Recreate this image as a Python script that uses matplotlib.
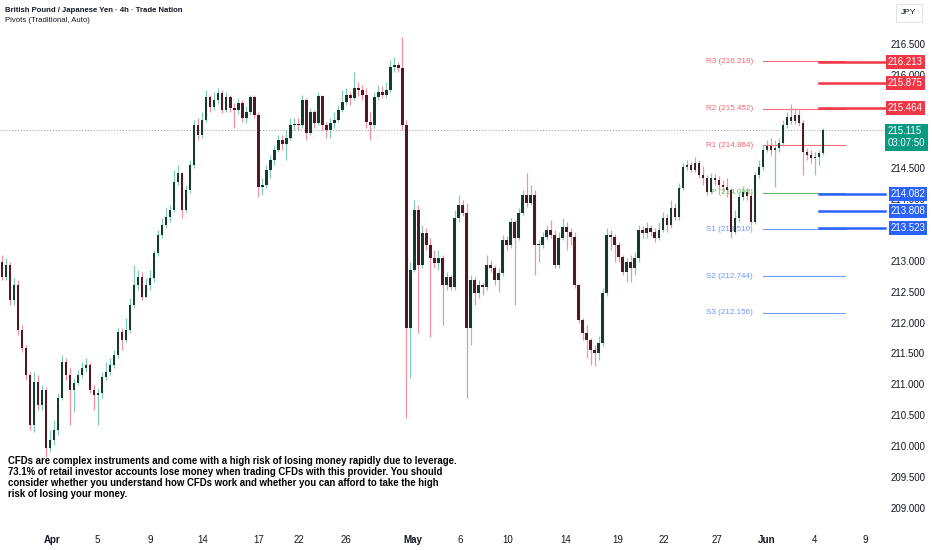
import matplotlib
matplotlib.use("Agg")
import matplotlib.pyplot as plt
import numpy as np

plt.rcParams['font.family'] = ['Liberation Sans', 'DejaVu Sans']

# GBP/JPY 4h candles (Apr -> early Jun)
first_open = 212.98
closes = [
    212.73, 212.93, 212.36, 212.60, 211.88, 211.59, 211.15, 210.34, 211.04, 210.67,
    210.91, 209.97, 210.10, 210.26, 210.78, 211.36, 211.15, 210.91, 211.02, 211.15,
    211.26, 211.31, 210.91, 210.83, 210.86, 211.12, 211.20, 211.31, 211.47, 211.85,
    211.72, 211.88, 212.28, 212.60, 212.73, 212.41, 212.60, 212.72, 213.12, 213.41,
    213.57, 213.70, 213.82, 214.27, 214.42, 213.82, 214.14, 214.54, 215.19, 215.03,
    215.27, 215.64, 215.48, 215.59, 215.71, 215.43, 215.64, 215.47, 215.43, 215.55,
    215.30, 215.40, 215.64, 215.35, 214.19, 214.22, 214.46, 214.63, 214.79, 214.95,
    214.88, 214.98, 215.19, 215.21, 215.19, 215.59, 215.06, 215.40, 215.22, 215.66,
    215.19, 215.11, 215.22, 215.27, 215.43, 215.56, 215.68, 215.63, 215.79, 215.76,
    215.68, 215.24, 215.19, 215.64, 215.72, 215.68, 215.76, 216.13, 216.16, 216.11,
    215.19, 211.91, 212.85, 213.82, 212.93, 213.45, 213.25, 213.04, 212.96, 213.04,
    212.60, 212.73, 212.57, 213.69, 213.90, 213.77, 211.91, 212.69, 212.48, 212.60,
    212.57, 212.93, 212.88, 212.69, 212.80, 213.33, 213.25, 213.62, 213.36, 213.77,
    214.06, 213.93, 214.06, 213.25, 213.25, 213.38, 213.49, 213.41, 212.93, 213.36,
    213.54, 213.46, 213.38, 212.60, 212.04, 211.83, 211.72, 211.55, 211.51, 211.67,
    212.48, 213.41, 213.38, 213.25, 213.06, 212.82, 212.98, 212.88, 213.04, 213.49,
    213.45, 213.53, 213.46, 213.36, 213.49, 213.69, 213.57, 213.85, 213.70, 214.17,
    214.51, 214.54, 214.46, 214.58, 214.38, 214.33, 214.11, 214.33, 214.30, 214.22,
    214.19, 214.14, 213.46, 213.69, 214.03, 214.11, 214.04, 213.62, 214.38, 214.51,
    214.79, 214.85, 214.79, 214.82, 214.90, 215.19, 215.32, 215.26, 215.35, 215.22,
    214.75, 214.71, 214.66, 214.67, 214.74, 215.115,
]
highs = [
    213.09, 213.04, 212.98, 212.72, 212.69, 211.96, 211.64, 211.20, 211.20, 211.15,
    210.99, 210.96, 210.26, 210.42, 210.86, 211.47, 211.42, 211.26, 211.10, 211.23,
    211.36, 211.42, 211.36, 210.99, 210.94, 211.20, 211.36, 211.42, 211.55, 211.91,
    211.91, 212.07, 212.39, 212.93, 212.85, 212.82, 212.72, 212.85, 213.17, 213.49,
    213.69, 213.85, 213.90, 214.46, 214.54, 214.43, 214.22, 214.63, 215.27, 215.30,
    215.40, 215.76, 215.68, 215.72, 215.79, 215.76, 215.72, 215.68, 215.55, 215.63,
    215.59, 215.50, 215.68, 215.68, 215.40, 214.33, 214.54, 214.71, 214.87, 215.03,
    215.03, 215.11, 215.30, 215.30, 215.30, 215.68, 215.63, 215.47, 215.43, 215.72,
    215.68, 215.24, 215.30, 215.40, 215.51, 215.76, 215.79, 215.72, 216.05, 215.89,
    215.84, 215.79, 215.40, 215.72, 215.84, 215.82, 215.89, 216.24, 216.29, 216.21,
    216.61, 215.27, 212.98, 213.98, 213.90, 213.57, 213.53, 213.36, 213.17, 213.17,
    213.09, 212.82, 212.77, 213.82, 214.06, 213.98, 213.93, 212.77, 212.73, 212.69,
    212.65, 213.09, 213.01, 212.93, 212.88, 213.41, 213.40, 213.69, 213.66, 213.85,
    214.14, 214.42, 214.22, 214.14, 213.33, 213.46, 213.57, 213.66, 213.49, 213.46,
    213.69, 213.62, 213.53, 213.46, 212.63, 212.07, 211.96, 211.75, 211.64, 211.78,
    212.56, 213.53, 213.49, 213.43, 213.30, 213.09, 213.04, 213.09, 213.14, 213.57,
    213.56, 213.62, 213.57, 213.53, 213.62, 213.78, 213.75, 213.98, 213.93, 214.25,
    214.58, 214.63, 214.59, 214.67, 214.63, 214.53, 214.38, 214.42, 214.40, 214.37,
    214.30, 214.33, 214.17, 213.82, 214.11, 214.20, 214.17, 214.11, 214.43, 214.63,
    214.87, 214.95, 214.98, 214.95, 214.98, 215.27, 215.40, 215.53, 215.47, 215.43,
    215.27, 214.82, 214.79, 214.75, 214.79, 215.14,
]
lows = [
    212.69, 212.69, 212.28, 212.28, 211.80, 211.52, 211.07, 210.26, 210.23, 210.58,
    210.58, 209.82, 209.91, 210.02, 210.18, 210.75, 211.07, 210.34, 210.55, 210.99,
    211.10, 211.20, 210.86, 210.58, 210.34, 210.78, 211.07, 211.15, 211.26, 211.42,
    211.55, 211.68, 211.83, 212.23, 212.52, 212.36, 212.39, 212.52, 212.65, 213.07,
    213.36, 213.53, 213.62, 213.78, 214.22, 213.69, 213.78, 214.09, 214.50, 214.95,
    214.98, 215.24, 215.40, 215.43, 215.53, 215.38, 215.40, 215.40, 215.14, 215.37,
    215.24, 215.22, 215.35, 215.30, 214.03, 214.06, 214.17, 214.33, 214.54, 214.75,
    214.79, 214.63, 214.95, 215.11, 215.11, 215.14, 214.95, 215.03, 215.14, 215.19,
    215.11, 214.98, 214.98, 215.14, 215.24, 215.40, 215.51, 215.51, 215.59, 215.66,
    215.59, 215.14, 214.95, 215.14, 215.59, 215.63, 215.63, 215.72, 216.05, 216.05,
    215.11, 210.46, 211.10, 212.82, 211.83, 212.88, 213.17, 211.76, 212.88, 212.85,
    211.96, 212.52, 212.52, 212.52, 213.62, 213.72, 210.78, 211.64, 212.28, 212.39,
    212.44, 212.52, 212.82, 212.60, 212.49, 212.75, 213.17, 213.20, 212.28, 213.33,
    213.74, 213.87, 213.90, 212.77, 212.98, 213.20, 213.33, 213.36, 212.88, 212.88,
    213.33, 213.17, 213.25, 212.56, 211.99, 211.72, 211.42, 211.31, 211.29, 211.39,
    211.62, 212.43, 213.17, 212.98, 212.98, 212.77, 212.65, 212.65, 212.77, 212.98,
    213.36, 213.36, 213.40, 213.30, 213.33, 213.46, 213.46, 213.53, 213.66, 213.66,
    214.14, 214.46, 214.43, 214.43, 214.33, 214.22, 214.06, 214.08, 214.22, 214.14,
    214.11, 214.03, 213.36, 213.43, 213.62, 213.98, 213.98, 213.57, 213.59, 214.33,
    214.46, 214.75, 214.71, 214.19, 214.75, 214.85, 215.14, 215.21, 215.21, 215.17,
    214.38, 214.63, 214.58, 214.38, 214.54, 214.71,
]

date_labels = ["Apr", "5", "9", "14", "17", "22", "26", "May", "6", "10",
               "14", "19", "22", "27", "Jun", "4", "9"]
date_ticks = [12.5, 23.8, 37, 50, 64.2, 74.2, 85.8, 102.5, 114.5, 126.2,
              140.8, 153.8, 165.2, 178.5, 191, 202.8, 215.5]

# price scale labels (215.5 and 213.5 sit fully under the tags)
price_ticks = [209.0, 209.5, 210.0, 210.5, 211.0, 211.5, 212.0, 212.5,
               213.0, 214.0, 214.5, 216.0, 216.5]

pivot_names = ["R3", "R2", "R1", "P", "S1", "S2", "S3"]
pivot_values = [216.218, 215.452, 214.864, 214.098, 213.510, 212.744, 212.156]

red_levels = [216.213, 215.875, 215.464]
blue_levels = [214.082, 213.808, 213.523]
last_price = 215.115
countdown = "03:07:50"

UP_BODY, DN_BODY = "#17392f", "#4d1b23"
UP_WICK, DN_WICK = "#80cdbb", "#f291a3"
RED, BLUE, GREEN = "#f23645", "#2962ff", "#089981"
TXT = "#131722"

opens = np.array([first_open] + closes[:-1])
closes = np.array(closes)
highs = np.array(highs)
lows = np.array(lows)
idx = np.arange(len(closes))
up = closes >= opens

fig = plt.figure(figsize=(9.32, 5.5), dpi=100)
ax = fig.add_axes([0, 22 / 550, 885 / 932, 528 / 550])
ax.set_xlim(-0.5, 220.5)
ax.set_ylim(208.68, 217.211)

# candles
ax.vlines(idx, lows, highs, colors=np.where(up, UP_WICK, DN_WICK), lw=0.9, zorder=2)
body = np.where(np.abs(closes - opens) < 0.015, 0.015, closes - opens)
ax.bar(idx, body, bottom=opens, width=0.62,
       color=np.where(up, UP_BODY, DN_BODY), linewidth=0, zorder=3)

# last price dotted line
ax.axhline(last_price, color="#9598a1", lw=0.7, ls=(0, (1, 2)), zorder=1)

# pivot levels
for name, v in zip(pivot_names, pivot_values):
    if name.startswith("R"):
        c = "#f7525f"
    elif name == "P":
        c = "#4caf50"
    else:
        c = "#5b8cff"
    ax.plot([190, 210.5], [v, v], color=c, lw=0.8, alpha=0.85, zorder=1)
    ax.text(187.5, v, f"{name} ({v:.3f})", color=c, fontsize=5.8,
            ha="right", va="center", alpha=0.9, zorder=1)

# horizontal level lines with price tags
for v in red_levels:
    ax.plot([204, 220.5], [v, v], color=RED, lw=1.8, zorder=4, clip_on=False)
    ax.annotate(f"{v:.3f}", xy=(1.0, v), xycoords=("axes fraction", "data"),
                xytext=(2.2, 0), textcoords="offset points", ha="left", va="center",
                fontsize=7, color="white", zorder=10, annotation_clip=False,
                bbox=dict(boxstyle="square,pad=0.2", fc=RED, ec="none"))
for v in blue_levels:
    ax.plot([204, 220.5], [v, v], color=BLUE, lw=1.8, zorder=4, clip_on=False)
    ax.annotate(f"{v:.3f}", xy=(1.0, v), xycoords=("axes fraction", "data"),
                xytext=(4, 0), textcoords="offset points", ha="left", va="center",
                fontsize=7, color="white", zorder=10, annotation_clip=False,
                bbox=dict(boxstyle="square,pad=0.2", fc=BLUE, ec="none"))
ax.annotate(f"{last_price:.3f}\n{countdown}", xy=(1.0, last_price - 0.12),
            xycoords=("axes fraction", "data"), xytext=(2.2, 0),
            textcoords="offset points", ha="left", va="center", fontsize=7,
            color="white", zorder=10, annotation_clip=False, linespacing=1.2,
            bbox=dict(boxstyle="square,pad=0.28", fc=GREEN, ec="none"))

# axes styling
for s in ax.spines.values():
    s.set_visible(False)
ax.yaxis.tick_right()
ax.set_yticks(price_ticks)
ax.set_yticklabels([f"{t:.3f}" for t in price_ticks])
ax.tick_params(axis="y", length=0, pad=4, labelsize=7, labelcolor=TXT)
ax.set_xticks(date_ticks)
ax.set_xticklabels(date_labels)
ax.tick_params(axis="x", length=0, pad=5, labelsize=7, labelcolor=TXT)
for lab in ax.get_xticklabels():
    if lab.get_text() in ("Apr", "May", "Jun"):
        lab.set_fontweight("bold")

# header
fig.text(5 / 932, 1 - 10 / 550, "British Pound / Japanese Yen · 4h · Trade Nation",
         fontsize=5.6, color=TXT, fontweight="bold", va="center")
fig.text(5 / 932, 1 - 21 / 550, "Pivots (Traditional, Auto)",
         fontsize=5.6, color=TXT, va="center")
fig.text(909 / 932, 1 - 13 / 550, "JPY", fontsize=6, color=TXT, ha="center",
         va="center", bbox=dict(boxstyle="square,pad=0.7", fc="white", ec="#e0e3eb", lw=0.8))

disclaimer = ("CFDs are complex instruments and come with a high risk of losing money rapidly due to leverage.\n"
              "73.1% of retail investor accounts lose money when trading CFDs with this provider. You should\n"
              "consider whether you understand how CFDs work and whether you can afford to take the high\n"
              "risk of losing your money.")
fig.text(8 / 932, 1 - 456 / 550, disclaimer, fontsize=6.9, color="#000000",
         fontweight="bold", va="top", ha="left", linespacing=1.12)

fig.savefig("out.png", dpi=100, facecolor="white")
